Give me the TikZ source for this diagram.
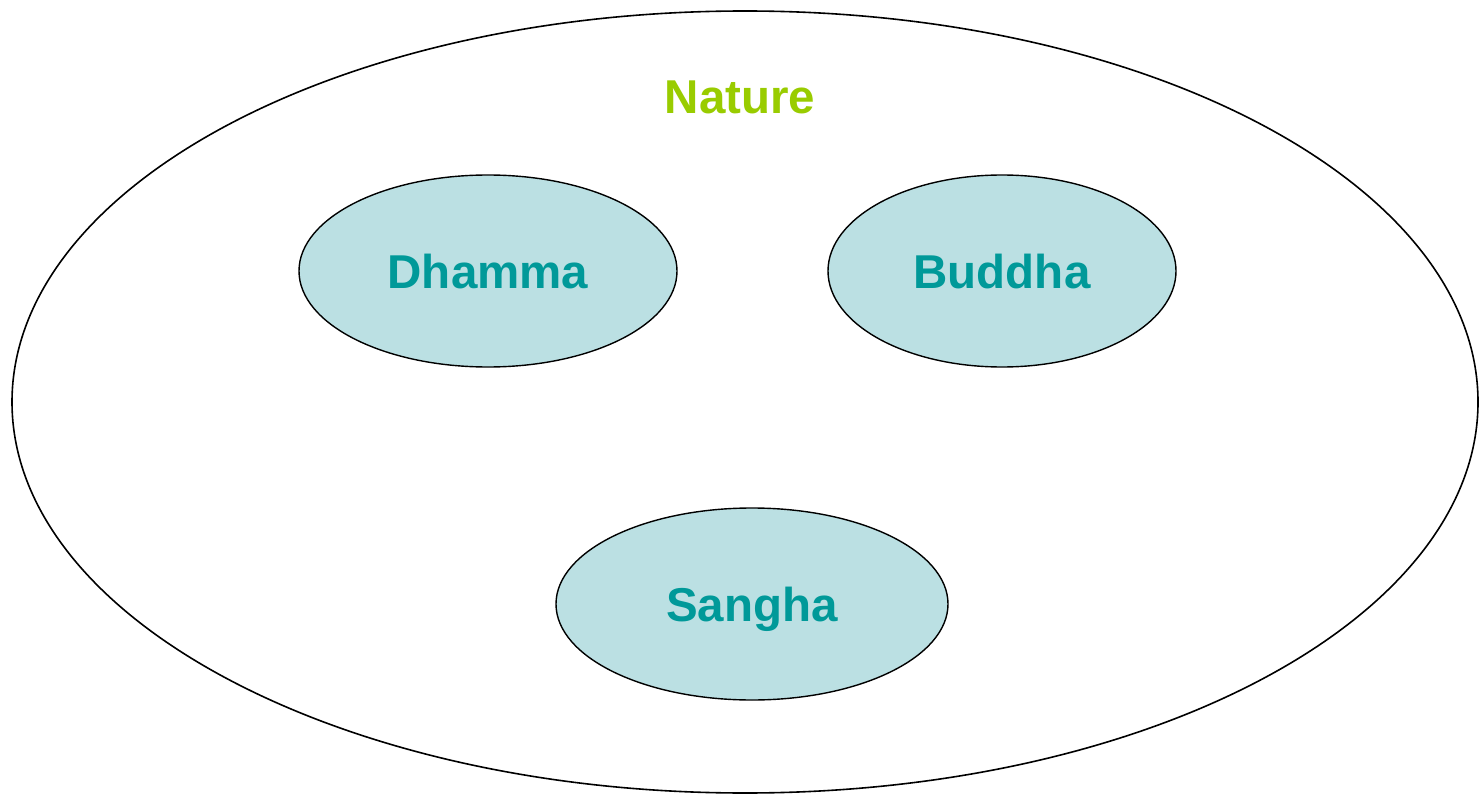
\documentclass[tikz,border=0pt]{standalone}
\usepackage{fontspec}
\setmainfont{Liberation Sans}
\definecolor{teal1}{HTML}{009999}
\definecolor{green1}{HTML}{99CC00}
\definecolor{fill1}{HTML}{BBE0E3}
\begin{document}
\begin{tikzpicture}[x=1pt,y=-1pt,
  outer/.style={draw=black,line width=1.6pt,fill=white},
  inner/.style={draw=black,line width=1.4pt,fill=fill1},
  lbl/.style={font=\fontsize{47.5}{52}\selectfont\bfseries,text=teal1,inner sep=0pt,text depth=0pt,text height=34pt}]
\useasboundingbox (0,0) rectangle (1480,794);
\draw[outer] (745,402) ellipse [x radius=733, y radius=391];
\node[lbl,text=green1] (nature) at (740,97) {Nature};
\draw[inner] (488,271) ellipse [x radius=189, y radius=96];
\node[lbl] (dhamma) at (488,271) {Dhamma};
\draw[inner] (1002,271) ellipse [x radius=174, y radius=96];
\node[lbl] (buddha) at (1002,271) {Buddha};
\draw[inner] (752,604) ellipse [x radius=196, y radius=96];
\node[lbl] (sangha) at (752,604) {Sangha};
\end{tikzpicture}
\end{document}
